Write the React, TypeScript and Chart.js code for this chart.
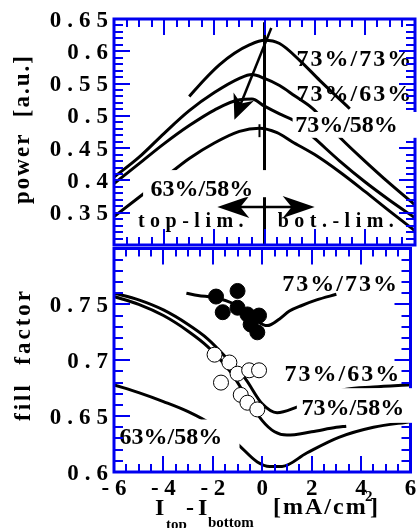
import React, { useEffect, useRef } from 'react';
import { Chart, registerables } from 'chart.js';
Chart.register(...registerables);

// ---------- axes ----------
const X_MIN = -6;
const X_MAX = 6;
const X_TICKS = [-6, -4, -2, 0, 2, 4, 6];
const X_TICK_LABELS = ['- 6', '- 4', '- 2', '0', '2', '4', '6'];
const POWER_MIN = 0.3;
const POWER_MAX = 0.65;
const POWER_TICKS = [0.35, 0.4, 0.45, 0.5, 0.55, 0.6, 0.65];
const POWER_TICK_LABELS = ['0.35', '0.4', '0.45', '0.5', '0.55', '0.6', '0.65'];
const FF_MIN = 0.6;
const FF_MAX = 0.8;
const FF_TICKS = [0.6, 0.65, 0.7, 0.75];
const FF_TICK_LABELS = ['0.6', '0.65', '0.7', '0.75'];

// ---------- power (top panel) ----------
const PWR_7373_X = [-3, -2.4, -1.8, -1.2, -0.6, 0, 0.6, 1.4, 2.2, 3.1, 3.4];
const PWR_7373_Y = [0.53, 0.556, 0.579, 0.597, 0.61, 0.617, 0.612, 0.586, 0.555, 0.522, 0.511];
const PWR_7363_X = [-6, -5, -4, -3, -2, -1, -0.5, 0, 0.6, 1.2, 1.9, 2.5, 3.1, 4, 5, 6];
const PWR_7363_Y = [0.405, 0.436, 0.473, 0.508, 0.536, 0.558, 0.564, 0.558, 0.547, 0.531, 0.512, 0.488, 0.463, 0.43, 0.395, 0.362];
const PWR_7358_X = [-6, -5, -4, -3, -2, -1, -0.5, 0, 0.6, 1.2, 2, 3, 4, 5, 6];
const PWR_7358_Y = [0.395, 0.426, 0.457, 0.485, 0.509, 0.525, 0.526, 0.515, 0.503, 0.492, 0.465, 0.43, 0.398, 0.369, 0.342];
const PWR_6358_X = [-6, -5, -4, -3, -2, -1, -0.2, 0.5, 1.1, 2, 3, 4, 5, 6];
const PWR_6358_Y = [0.344, 0.374, 0.404, 0.434, 0.458, 0.476, 0.481, 0.474, 0.46, 0.44, 0.413, 0.383, 0.352, 0.322];

// ---------- fill factor (bottom panel) ----------
const FF_7373_X = [-3.07, -2.6, -1.9, -1.2, -0.6, -0.2, 0.2, 0.7, 1.1, 1.6, 2.2, 3.0];
const FF_7373_Y = [0.76, 0.758, 0.756, 0.751, 0.743, 0.735, 0.731, 0.737, 0.744, 0.749, 0.754, 0.759];
const FF_7363_X = [-6, -5, -4, -3, -2.2, -1.4, -0.7, 0, 0.6, 1.4, 2.4, 3.4, 4.5, 6];
const FF_7363_Y = [0.76, 0.754, 0.745, 0.732, 0.719, 0.701, 0.684, 0.661, 0.653, 0.658, 0.667, 0.674, 0.676, 0.678];
const FF_7358_X = [-6, -5, -4, -3, -2.2, -1.3, -0.6, 0, 0.5, 1, 2, 3, 3.4];
const FF_7358_Y = [0.757, 0.75, 0.74, 0.726, 0.712, 0.69, 0.666, 0.646, 0.636, 0.633, 0.636, 0.64, 0.641];
const FF_6358_X = [-6, -5, -4, -3, -2, -1, -0.2, 0.3, 0.8, 1.8, 3.1, 4.5, 6];
const FF_6358_Y = [0.678, 0.671, 0.663, 0.654, 0.642, 0.625, 0.609, 0.605, 0.605, 0.617, 0.631, 0.64, 0.645];
const DOTS_FILLED_X = [-1.87, -1.0, -1.6, -1.0, -0.6, -0.13, -0.47, -0.2];
const DOTS_FILLED_Y = [0.757, 0.762, 0.743, 0.747, 0.741, 0.74, 0.732, 0.725];
const DOTS_OPEN_X = [-1.93, -1.33, -1.0, -0.53, -0.13, -1.67, -0.87, -0.6, -0.2];
const DOTS_OPEN_Y = [0.705, 0.698, 0.688, 0.691, 0.691, 0.68, 0.669, 0.662, 0.656];

// ---------- annotations (data units) ----------
const DIAG_ARROW = { x0: 0.27, y0: 0.636, x1: -1.2, y1: 0.494 };
const LIMIT_ARROW = { x0: -1.88, x1: 2.0, y: 0.359 };
const ZERO_LINE = { x: 0, y0: 0.645, y1: 0.3 };
const PEAK_MARK = { x: -0.2, y0: 0.487, y1: 0.467 };

type Label = {
  text: string; x: number; y: number; size: number; spacing: number;
  box?: [number, number, number, number]; overFrame?: boolean;
};
const POWER_LABELS: Label[] = [
  { text: '73%/73%', x: 3.56, y: 0.59, size: 24, spacing: 2 },
  { text: '73%/63%', x: 3.56, y: 0.535, size: 24, spacing: 2 },
  { text: '73%/58%', x: 3.27, y: 0.488, size: 24, spacing: 0, box: [1.12, 6.2, 0.506, 0.466], overFrame: true },
  { text: '63%/58%', x: -2.5, y: 0.389, size: 24, spacing: 0, box: [-4.84, 0.12, 0.416, 0.374] },
  { text: 'top-lim.', x: -2.94, y: 0.339, size: 20, spacing: 5.5 },
  { text: 'bot.-lim.', x: 2.84, y: 0.339, size: 20, spacing: 5.5 },
];
const FF_LABELS: Label[] = [
  { text: '73%/73%', x: 3.13, y: 0.769, size: 24, spacing: 2 },
  { text: '73%/63%', x: 3.22, y: 0.6885, size: 24, spacing: 2 },
  { text: '73%/58%', x: 3.67, y: 0.658, size: 24, spacing: 0, box: [1.4, 6.2, 0.675, 0.644], overFrame: true },
  { text: '63%/58%', x: -3.7, y: 0.632, size: 24, spacing: 0, box: [-5.88, -0.92, 0.647, 0.617] },
];

const BLUE = '#0000f0';
const SERIF = "'Liberation Serif', 'Times New Roman', serif";
const TOP_OFFSET = 0;
const BOTTOM_OFFSET = 240;

function drawSpaced(ctx: CanvasRenderingContext2D, text: string, x: number, y: number, spacing: number, align: 'left' | 'center' | 'right') {
  const chars = Array.from(text);
  const widths = chars.map((c) => ctx.measureText(c).width);
  const total = widths.reduce((a, b) => a + b, 0) + spacing * (chars.length - 1);
  let cx = align === 'left' ? x : align === 'center' ? x - total / 2 : x - total;
  ctx.textAlign = 'left';
  chars.forEach((c, i) => {
    ctx.fillText(c, cx, y);
    cx += widths[i] + spacing;
  });
}

function arrowHead(ctx: CanvasRenderingContext2D, tx: number, ty: number, fx: number, fy: number, len: number, half: number, notch: number) {
  const ang = Math.atan2(ty - fy, tx - fx);
  const ux = Math.cos(ang), uy = Math.sin(ang);
  const px = -uy, py = ux;
  const bx = tx - ux * len, by = ty - uy * len;
  ctx.beginPath();
  ctx.moveTo(tx, ty);
  ctx.lineTo(bx + px * half, by + py * half);
  ctx.lineTo(tx - ux * len * notch, ty - uy * len * notch);
  ctx.lineTo(bx - px * half, by - py * half);
  ctx.closePath();
  ctx.fill();
}

function drawFrame(chart: any, yMin: number, yMax: number, yMajors: number[]) {
  const { ctx, chartArea: a, scales } = chart;
  const xs = scales.x, ys = scales.y;
  ctx.save();
  ctx.strokeStyle = BLUE;
  ctx.lineWidth = 2;
  ctx.beginPath();
  for (let i = 0; i <= (X_MAX - X_MIN) * 2; i++) {
    const v = X_MIN + i * 0.5;
    const px = Math.round(xs.getPixelForValue(v));
    const major = X_TICKS.some((t) => Math.abs(t - v) < 1e-6);
    const len = major ? 16 : 8;
    ctx.moveTo(px, a.top); ctx.lineTo(px, a.top + len);
    ctx.moveTo(px, a.bottom); ctx.lineTo(px, a.bottom - len);
  }
  const n = Math.round((yMax - yMin) / 0.01);
  for (let i = 0; i <= n; i++) {
    const v = yMin + i * 0.01;
    const py = Math.round(ys.getPixelForValue(v));
    const major = yMajors.some((t) => Math.abs(t - v) < 1e-6) || Math.abs(v * 20 - Math.round(v * 20)) < 1e-6;
    const len = major ? 16 : 9;
    ctx.moveTo(a.left, py); ctx.lineTo(a.left + len, py);
    ctx.moveTo(a.right, py); ctx.lineTo(a.right - len, py);
  }
  ctx.stroke();
  ctx.lineWidth = 3;
  ctx.strokeRect(a.left, a.top, a.right - a.left, a.bottom - a.top);
  ctx.restore();
}

function drawLabel(chart: any, l: Label, withBox: boolean) {
  const { ctx, scales } = chart;
  const xs = scales.x, ys = scales.y;
  ctx.save();
  if (withBox && l.box) {
    const x0 = xs.getPixelForValue(l.box[0]);
    const x1 = xs.getPixelForValue(l.box[1]);
    const y0 = ys.getPixelForValue(l.box[2]);
    const y1 = ys.getPixelForValue(l.box[3]);
    ctx.fillStyle = '#ffffff';
    ctx.fillRect(x0, y0, x1 - x0, y1 - y0);
  }
  ctx.fillStyle = '#000';
  ctx.font = `bold ${l.size}px ${SERIF}`;
  ctx.textBaseline = 'alphabetic';
  const cx = xs.getPixelForValue(l.x);
  const cy = ys.getPixelForValue(l.y);
  drawSpaced(ctx, l.text, cx, cy + l.size * 0.34, l.spacing, 'center');
  ctx.restore();
}

function drawYTickLabels(chart: any, ticks: number[], labels: string[]) {
  const { ctx, scales } = chart;
  ctx.save();
  ctx.fillStyle = '#000';
  ctx.font = `bold 23px ${SERIF}`;
  ctx.textBaseline = 'alphabetic';
  ticks.forEach((t, i) => {
    const py = scales.y.getPixelForValue(t);
    drawSpaced(ctx, labels[i], 108, py + 7.5, 6, 'right');
  });
  ctx.restore();
}

function drawRotated(ctx: CanvasRenderingContext2D, text: string, x: number, y: number, font: string, spacing: number) {
  ctx.save();
  ctx.translate(x, y);
  ctx.rotate(-Math.PI / 2);
  ctx.font = font;
  ctx.fillStyle = '#000';
  ctx.textBaseline = 'alphabetic';
  drawSpaced(ctx, text, 0, 0, spacing, 'center');
  ctx.restore();
}

const topPlugin = {
  id: 'topDecor',
  afterDraw(chart: any) {
    const { ctx, scales } = chart;
    const xs = scales.x, ys = scales.y;
    ctx.save();
    ctx.strokeStyle = '#000';
    ctx.fillStyle = '#000';
    ctx.lineWidth = 3;
    // zero line
    const zx = xs.getPixelForValue(ZERO_LINE.x);
    ctx.beginPath();
    ctx.moveTo(zx, ys.getPixelForValue(ZERO_LINE.y0));
    ctx.lineTo(zx, ys.getPixelForValue(ZERO_LINE.y1));
    ctx.stroke();
    // diagonal arrow
    const dx0 = xs.getPixelForValue(DIAG_ARROW.x0), dy0 = ys.getPixelForValue(DIAG_ARROW.y0);
    const dx1 = xs.getPixelForValue(DIAG_ARROW.x1), dy1 = ys.getPixelForValue(DIAG_ARROW.y1);
    ctx.lineWidth = 2.5;
    ctx.beginPath();
    ctx.moveTo(dx0, dy0);
    const ang = Math.atan2(dy1 - dy0, dx1 - dx0);
    ctx.lineTo(dx1 - Math.cos(ang) * 15, dy1 - Math.sin(ang) * 15);
    ctx.stroke();
    arrowHead(ctx, dx1, dy1, dx0, dy0, 25, 11, 0.7);
    // limit double arrow
    const lx0 = xs.getPixelForValue(LIMIT_ARROW.x0), lx1 = xs.getPixelForValue(LIMIT_ARROW.x1);
    const ly = ys.getPixelForValue(LIMIT_ARROW.y);
    ctx.lineWidth = 2.5;
    ctx.beginPath();
    ctx.moveTo(lx0 + 20, ly);
    ctx.lineTo(lx1 - 20, ly);
    ctx.stroke();
    arrowHead(ctx, lx0, ly, lx1, ly, 32, 11, 0.72);
    arrowHead(ctx, lx1, ly, lx0, ly, 32, 11, 0.72);
    // peak mark
    const mx = xs.getPixelForValue(PEAK_MARK.x);
    ctx.lineWidth = 2;
    ctx.beginPath();
    ctx.moveTo(mx, ys.getPixelForValue(PEAK_MARK.y0));
    ctx.lineTo(mx, ys.getPixelForValue(PEAK_MARK.y1));
    ctx.stroke();
    ctx.restore();

    POWER_LABELS.filter((l) => !l.overFrame).forEach((l) => drawLabel(chart, l, true));
    drawFrame(chart, POWER_MIN, POWER_MAX, POWER_TICKS);
    POWER_LABELS.filter((l) => l.overFrame).forEach((l) => drawLabel(chart, l, true));
    drawYTickLabels(chart, POWER_TICKS, POWER_TICK_LABELS);
    drawRotated(ctx, 'power  [a.u.]', 29, 130 - TOP_OFFSET, `bold 23px ${SERIF}`, 2);
  },
};

const bottomPlugin = {
  id: 'bottomDecor',
  afterDraw(chart: any) {
    const { ctx, scales } = chart;
    FF_LABELS.filter((l) => !l.overFrame).forEach((l) => drawLabel(chart, l, true));
    drawFrame(chart, FF_MIN, FF_MAX, FF_TICKS);
    FF_LABELS.filter((l) => l.overFrame).forEach((l) => drawLabel(chart, l, true));
    drawYTickLabels(chart, FF_TICKS, FF_TICK_LABELS);
    drawRotated(ctx, 'fill  factor', 30, 356 - BOTTOM_OFFSET, `bold 23px ${SERIF}`, 3);
    // x tick labels
    ctx.save();
    ctx.fillStyle = '#000';
    ctx.font = `bold 23px ${SERIF}`;
    ctx.textBaseline = 'alphabetic';
    X_TICKS.forEach((t, i) => {
      const px = scales.x.getPixelForValue(t);
      drawSpaced(ctx, X_TICK_LABELS[i], px, 495 - BOTTOM_OFFSET, 0, 'center');
    });
    // x title
    const o = BOTTOM_OFFSET;
    ctx.font = `bold 24px ${SERIF}`;
    ctx.textAlign = 'left';
    ctx.fillText('I', 155, 515 - o);
    ctx.fillText('-', 186, 515 - o);
    ctx.fillText('I', 198, 515 - o);
    drawSpaced(ctx, '[mA/cm', 273, 514 - o, 2, 'left');
    ctx.fillText(']', 370, 514 - o);
    ctx.font = `bold 15px ${SERIF}`;
    ctx.fillText('top', 166, 529 - o);
    ctx.fillText('bottom', 208, 527 - o);
    ctx.fillText('2', 365, 501 - o);
    ctx.restore();
  },
};

function lineDs(xs: number[], ys: number[]) {
  return {
    data: xs.map((x, i) => ({ x, y: ys[i] })),
    showLine: true,
    borderColor: '#000',
    backgroundColor: '#000',
    borderWidth: 3,
    pointRadius: 0,
    fill: false,
    cubicInterpolationMode: 'monotone' as const,
  };
}

function pointDs(xs: number[], ys: number[], fillColor: string) {
  return {
    data: xs.map((x, i) => ({ x, y: ys[i] })),
    showLine: false,
    pointRadius: 7.5,
    pointBackgroundColor: fillColor,
    pointBorderColor: '#000',
    pointBorderWidth: 1,
    backgroundColor: fillColor,
    borderColor: '#000',
  };
}

function baseOptions(yMin: number, yMax: number, padding: any) {
  return {
    responsive: false,
    animation: false as const,
    devicePixelRatio: 1,
    events: [] as any[],
    layout: { padding },
    scales: {
      x: { type: 'linear' as const, min: X_MIN, max: X_MAX, display: false },
      y: { type: 'linear' as const, min: yMin, max: yMax, display: false },
    },
    plugins: { legend: { display: false }, tooltip: { enabled: false } },
  };
}

export default function App() {
  const topRef = useRef<HTMLCanvasElement>(null);
  const botRef = useRef<HTMLCanvasElement>(null);
  useEffect(() => {
    const top = new Chart(topRef.current as HTMLCanvasElement, {
      type: 'scatter',
      data: {
        datasets: [
          lineDs(PWR_7373_X, PWR_7373_Y),
          lineDs(PWR_7363_X, PWR_7363_Y),
          lineDs(PWR_7358_X, PWR_7358_Y),
          lineDs(PWR_6358_X, PWR_6358_Y),
        ] as any,
      },
      options: baseOptions(POWER_MIN, POWER_MAX, { left: 114, right: 4, top: 19, bottom: 5 }) as any,
      plugins: [topPlugin],
    });
    const bottom = new Chart(botRef.current as HTMLCanvasElement, {
      type: 'scatter',
      data: {
        datasets: [
          pointDs(DOTS_OPEN_X, DOTS_OPEN_Y, '#ffffff'),
          pointDs(DOTS_FILLED_X, DOTS_FILLED_Y, '#000000'),
          lineDs(FF_7373_X, FF_7373_Y),
          lineDs(FF_7363_X, FF_7363_Y),
          lineDs(FF_7358_X, FF_7358_Y),
          lineDs(FF_6358_X, FF_6358_Y),
        ] as any,
      },
      options: baseOptions(FF_MIN, FF_MAX, { left: 114, right: 4, top: 5, bottom: 56 }) as any,
      plugins: [bottomPlugin],
    });
    return () => {
      top.destroy();
      bottom.destroy();
    };
  }, []);
  return (
    <div style={{ position: 'fixed', left: 0, top: 0, width: 419, height: 528, background: '#ffffff', overflow: 'hidden' }}>
      <canvas ref={topRef} width={419} height={250} style={{ position: 'absolute', left: 0, top: 0, width: 419, height: 250 }} />
      <canvas ref={botRef} width={419} height={288} style={{ position: 'absolute', left: 0, top: BOTTOM_OFFSET, width: 419, height: 288 }} />
    </div>
  );
}
